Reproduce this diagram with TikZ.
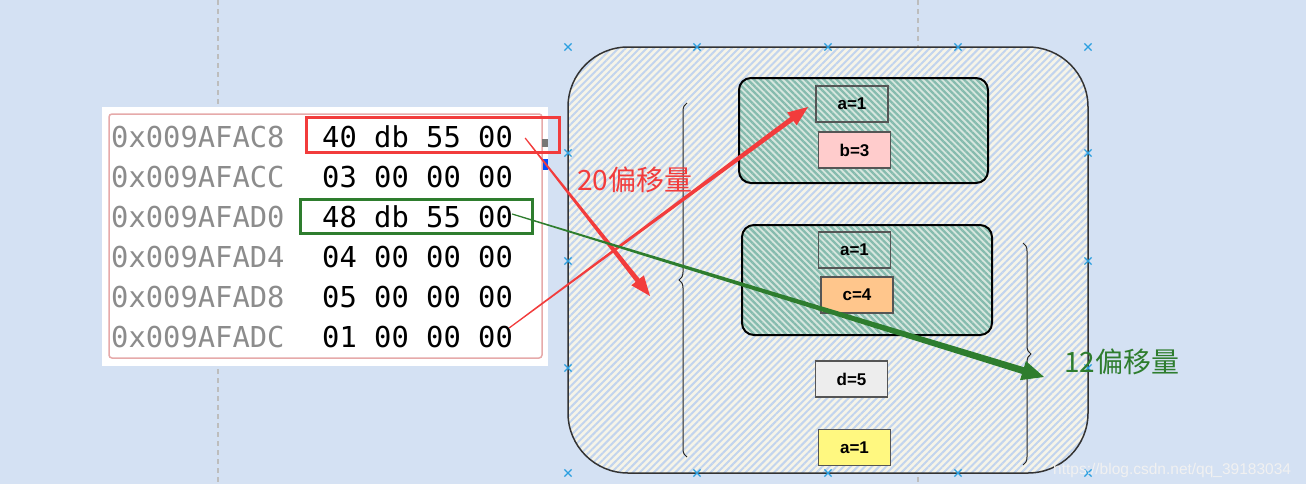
\documentclass[tikz,border=0pt]{standalone}
\usepackage{fontspec}
\setmainfont{Liberation Sans}
\newfontfamily\monofont{DejaVu Sans Mono}
\newfontfamily\cjkfont{Noto Sans CJK SC}
\usetikzlibrary{arrows.meta,positioning,calc,patterns.meta,shapes.misc,decorations.pathreplacing}
\definecolor{MemFondo}{HTML}{D4E1F3}
\definecolor{MemGris}{HTML}{8C8C8C}
\definecolor{MemRojo}{HTML}{F23C3C}
\definecolor{MemVerde}{HTML}{2E7D2E}
\definecolor{MemRosa}{HTML}{E6AAAA}
\definecolor{MemCrema}{HTML}{F6F4E8}
\definecolor{MemRaya}{HTML}{C2D4EE}
\definecolor{MemTeal}{HTML}{D6E6DE}
\definecolor{MemTealRaya}{HTML}{86BBAE}
\definecolor{MemCruz}{HTML}{2A9FE0}
\definecolor{MemCaja}{HTML}{555555}
\definecolor{MemGuia}{HTML}{BDBDBD}
\newcommand{\flechaFina}[7]{%
 \coordinate (fb) at ($(#2)!#6!(#1)$);
 \fill[#3] ($(#1)!#4!90:(#2)$) -- ($(fb)!#5!90:(#2)$) -- ($(fb)!#7!90:(#2)$) -- (#2)
  -- ($(fb)!#7!-90:(#2)$) -- ($(fb)!#5!-90:(#2)$) -- ($(#1)!#4!-90:(#2)$) -- cycle;}

\begin{document}
\begin{tikzpicture}[x=1pt,y=-1pt,
 dir/.style={anchor=west,inner sep=0pt,text=MemGris,font=\monofont\fontsize{28.8}{30}\selectfont},
 dato/.style={anchor=west,inner sep=0pt,text=black,font=\monofont\fontsize{28.8}{30}\selectfont},
 marco/.style={draw=black!80,line width=1.5pt,rounded corners=60pt,preaction={fill=MemCrema},pattern={Lines[angle=45,distance=5pt,line width=2pt]},pattern color=MemRaya},
 grupo/.style={draw=black,line width=2pt,rounded corners=12pt,preaction={fill=MemTeal},pattern={Lines[angle=-45,distance=4.5pt,line width=2.3pt]},pattern color=MemTealRaya},
 caja/.style={draw=MemCaja,line width=1.2pt,minimum width=72pt,minimum height=36pt,inner sep=0pt,font=\fontsize{17}{17}\selectfont\bfseries},
 marca/.style={cross out,draw=MemCruz,line width=1.2pt,minimum size=6pt,inner sep=0pt},
 llave/.style={draw=black!85,line width=1pt,decorate,decoration={brace,amplitude=8pt}},
 nota/.style={inner sep=0pt,anchor=west,font=\cjkfont\fontsize{28}{30}\selectfont}]
\useasboundingbox[fill=MemFondo] (0,0) rectangle (1306,490);
\fill[white!92!MemFondo] (0,484) rectangle (1306,490);
\draw[MemGuia,line width=1.5pt,dash pattern=on 5pt off 4pt] (218,0) -- (218,484) (918,0) -- (918,484);
\node[fill=white,minimum width=446pt,minimum height=259pt,inner sep=0pt] (p) at (325,236.5) {};
\node[draw=MemRosa,line width=1.5pt,rounded corners=3pt,minimum width=433pt,minimum height=244pt,inner sep=0pt] (pb) at (325.5,236) {};
\fill[MemCaja!80] (542,139) rectangle (548,147);
\fill[blue!70!cyan] (543,159) rectangle (548,170);
\node[dir] (r1) at (111,137) {0x009AFAC8};
\node[dir] (r2) at (111,177) {0x009AFACC};
\node[dir] (r3) at (111,217) {0x009AFAD0};
\node[dir] (r4) at (111,257) {0x009AFAD4};
\node[dir] (r5) at (111,297) {0x009AFAD8};
\node[dir] (r6) at (111,337) {0x009AFADC};
\node[dato] (d1) at (322,137) {40 db 55 00};
\node[dato] (d2) at (322,177) {03 00 00 00};
\node[dato] (d3) at (322,217) {48 db 55 00};
\node[dato] (d4) at (322,257) {04 00 00 00};
\node[dato] (d5) at (322,297) {05 00 00 00};
\node[dato] (d6) at (322,337) {01 00 00 00};
\node[draw=MemRojo,line width=3pt,minimum width=253pt,minimum height=35pt,inner sep=0pt] (rr) at (432.5,134.5) {};
\node[draw=MemVerde,line width=3pt,minimum width=232pt,minimum height=34pt,inner sep=0pt] (rv) at (416,216) {};
\node[marco,minimum width=520pt,minimum height=426pt,inner sep=0pt] (m) at (828,260) {};
\node[grupo,minimum width=249pt,minimum height=105pt,inner sep=0pt] (g1) at (863.5,130.5) {};
\node[grupo,minimum width=250pt,minimum height=110pt,inner sep=0pt] (g2) at (867,280) {};
\node[caja] (a1) at (852,104) {a=1};
\node[caja,fill=red!20] (b) at (854.5,150) {b=3};
\node[caja] (a2) at (854.5,250) {a=1};
\node[caja,fill=orange!45] (c) at (857,295) {c=4};
\node[caja,fill=black!7] (d) at (851.5,379) {d=5};
\node[caja,fill=yellow!50] (a3) at (854.5,447.5) {a=1};
\draw[llave] (687,457) -- (687,103);
\draw[llave] (1023,243) -- (1023,465);
\foreach \x in {568,697,828,958,1088} {\node[marca] at (\x,47) {}; \node[marca] at (\x,473) {};}
\foreach \y in {153,261,368} {\node[marca] at (568,\y) {}; \node[marca] at (1088,\y) {};}
\node[nota,text=MemRojo] (n20) at (577,180) {20偏移量};
\node[nota,text=MemVerde] (n12) at (1064,362) {12偏移量};
\node[inner sep=0pt,anchor=west,text=white!88!MemGris,font=\fontsize{15.5}{16}\selectfont] (w) at (1053,470) {https://blog.csdn.net/qq\_39183034};
\coordinate (s1) at ($(d1.east)+(12,1)$);
\coordinate (s2) at ($(d6.east)+(-4,-9)$);
\coordinate (s3) at ($(d3.east)+(-1,-3)$);
\coordinate (t1) at (650,296);
\coordinate (t2) at (808,107);
\coordinate (t3) at (1044,377);
\flechaFina{s1}{t1}{MemRojo}{0.6pt}{2.5pt}{20pt}{8pt}
\flechaFina{s2}{t2}{MemRojo}{0.6pt}{2.5pt}{20pt}{8pt}
\flechaFina{s3}{t3}{MemVerde}{0.6pt}{3.5pt}{22pt}{10pt}
\end{tikzpicture}
\end{document}
